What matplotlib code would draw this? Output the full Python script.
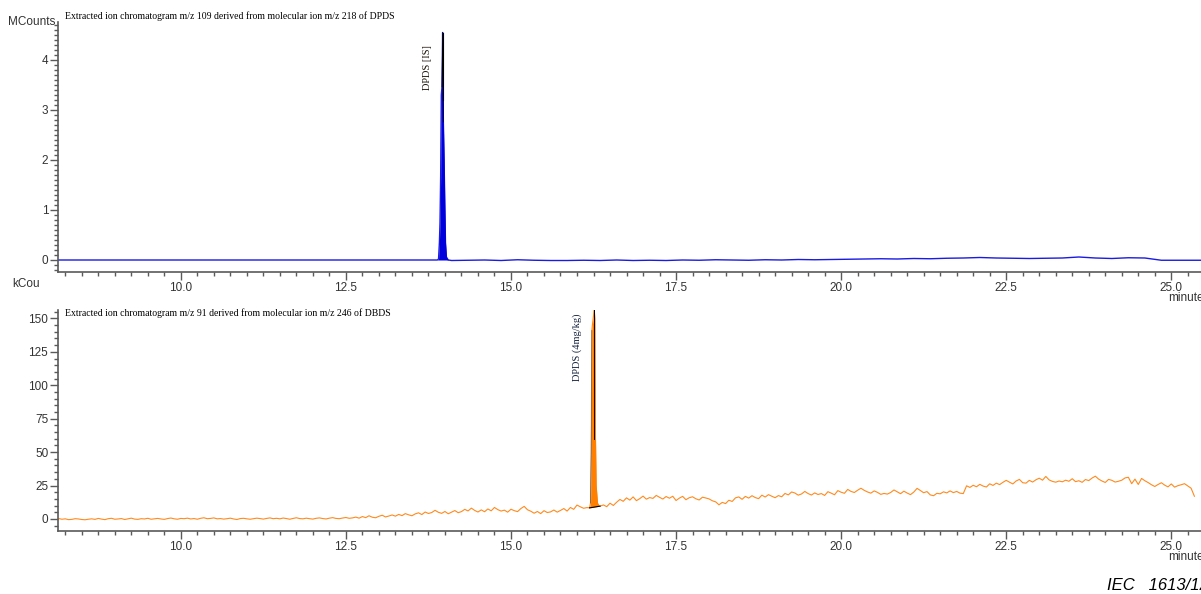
import numpy as np
import matplotlib
matplotlib.use("Agg")
import matplotlib.pyplot as plt
from matplotlib.ticker import MultipleLocator, FixedLocator

# ---------------- data ----------------
# Top trace: m/z 109 (MCounts)
dpds_pre_t = [8.14, 13.885]
dpds_pre_v = [0.0, 0.0]
dpds_peak_t = [13.885, 13.903, 13.916, 13.925, 13.935, 13.945, 13.955, 13.965, 13.976, 13.987, 13.998, 14.008, 14.022, 14.05]
dpds_peak_v = [0.0, 0.02, 0.35, 0.74, 1.66, 3.3, 3.46, 4.55, 2.76, 2.0, 1.1, 0.35, 0.06, 0.0]
dpds_post_start = 14.10
dpds_post_step = 0.25
dpds_post_v = [-0.01, -0.005, 0.0, -0.01, 0.005, -0.005, -0.01, -0.01, -0.005, -0.01, 0.0, -0.01,
               -0.005, -0.01, 0.0, -0.005, 0.005, 0.0, -0.005, 0.005, 0.0, 0.01, 0.005, 0.01,
               0.015, 0.02, 0.025, 0.02, 0.03, 0.025, 0.035, 0.04, 0.05, 0.04, 0.035, 0.03,
               0.035, 0.04, 0.06, 0.04, 0.03, 0.045, 0.04,
               -0.005, -0.005, -0.005, -0.005]

# Bottom trace: m/z 91 (kCounts)
dbds_pre_start = 8.15
dbds_step = 0.05
dbds_pre_v = [
    0.3, -0.2, 0.1, -0.5, -0.3, 0.2, 0.0, -0.4, -0.6, -0.2,
    0.1, -0.3, 0.4, -0.1, -0.5, 0.2, 0.5, -0.2, 0.0, 0.3,
    -0.4, 0.1, 0.6, -0.1, -0.3, 0.2, 0.0, 0.5, -0.2, 0.1,
    0.4, 0.0, -0.3, 0.3, 0.7, 0.1, -0.2, 0.4, 0.2, 0.6,
    0.0, 0.3, -0.2, 0.5, 0.9, 0.2, 0.4, 0.8, 0.1, 0.3,
    -0.1, 0.2, 0.6, 0.0, -0.4, 0.3, 0.5, 0.1, -0.2, 0.2,
    0.6, 0.3, -0.1, 0.4, 0.8, 0.2, 0.5, 0.1, 0.7, 0.3,
    -0.2, 0.4, 0.9, 0.3, 0.1, 0.6, 0.2, -0.1, 0.5, 0.8,
    0.3, 0.0, 0.6, 1.0, 0.4, 0.2, 0.7, 1.1, 0.5, 0.8,
    1.4, 0.6, 1.8, 1.0, 2.4, 1.3, 0.9, 2.0, 2.8, 1.5, 2.2, 3.0,
    2.1, 3.4, 2.5, 4.0, 3.1, 2.4, 3.8, 4.6, 3.3, 5.2, 4.1, 4.8, 6.5, 5.0,
    4.2, 5.6, 3.9, 5.1, 6.3, 4.7, 5.5, 7.2, 6.0, 8.1, 6.4, 5.2,
    6.8, 5.4, 7.5, 6.1, 8.6, 7.0, 5.9, 6.6, 5.1, 7.3, 6.2, 5.5, 7.8, 9.4, 6.9, 5.8,
    4.3, 5.6, 4.0, 6.2, 4.8, 5.3, 6.7, 5.1,
    6.4, 7.8, 5.9, 8.6, 7.2, 10.4, 9.1, 8.0, 8.5]
dbds_peak_t = [16.19, 16.205, 16.215, 16.225, 16.235, 16.25, 16.26, 16.27, 16.28, 16.29, 16.31, 16.33, 16.35]
dbds_peak_v = [8.3, 12.0, 49.0, 141.0, 146.0, 152.0, 158.0, 150.0, 60.0, 25.0, 12.0, 10.0, 9.6]
dbds_post_start = 16.40
dbds_post_v = [
    10.5, 9.2, 11.8, 10.1, 12.5,
    14.6, 13.2, 15.8, 14.1, 16.5, 13.7, 15.2, 17.1, 14.8, 16.0, 15.4, 17.6, 16.2, 14.9, 16.8, 15.5,
    17.0, 13.8, 15.6, 16.9, 14.4, 15.9, 16.6, 15.1, 14.2, 16.3, 15.7, 15.0, 13.6, 12.8,
    10.6, 12.4, 11.5, 14.0, 13.1, 15.8, 16.5,
    14.7, 16.9, 15.6, 17.4, 16.0, 15.2, 17.8, 16.4, 18.2, 17.0, 15.9,
    17.5, 16.6, 19.1, 18.0, 20.2, 19.4, 17.8, 18.7, 20.6, 19.0, 17.9, 19.5, 18.3,
    19.0, 17.6, 20.4, 19.3, 18.1, 21.2, 20.0, 19.2, 22.1, 20.6, 19.8, 21.5, 23.0,
    21.4, 20.2, 19.3, 21.0, 19.9, 18.4, 19.1, 18.6, 19.8, 21.7, 20.3, 18.9, 20.8, 19.4, 18.2, 20.1,
    22.9, 21.3, 19.6, 20.5, 18.0, 17.4, 19.2, 18.8, 20.3, 19.5, 21.0, 19.7, 20.6, 19.3, 19.0,
    24.8, 23.6, 25.2, 24.1, 25.9, 24.6, 23.9, 26.3, 25.1, 26.8, 25.7, 27.4, 28.9,
    27.5, 26.2, 28.4, 29.6, 27.1, 26.8, 28.9, 27.6, 29.3, 30.5, 29.0, 31.8,
    29.2, 28.1, 27.5, 28.4, 27.8, 29.0, 28.2, 30.1, 27.9, 28.6, 27.4, 29.5, 28.7, 30.6, 32.0, 29.8,
    28.4, 27.3, 29.6, 28.9, 27.6, 28.2, 29.0, 30.7, 31.2, 26.4, 29.8, 25.8, 30.3, 28.6, 27.2, 25.6,
    24.3, 25.8, 27.1, 25.3, 24.0, 26.2, 23.8, 24.9, 25.6, 26.4, 24.7, 23.0, 17.0]

x_major = [10.0, 12.5, 15.0, 17.5, 20.0, 22.5, 25.0]
x_labels = ["10.0", "12.5", "15.0", "17.5", "20.0", "22.5", "25.0"]
top_yticks = [0, 1, 2, 3, 4]
bot_yticks = [0, 25, 50, 75, 100, 125, 150]

title_top = "Extracted ion chromatogram m/z 109 derived from molecular ion m/z 218 of DPDS"
title_bot = "Extracted ion chromatogram m/z 91 derived from molecular ion m/z 246 of DBDS"
peak_label_top = "DPDS [IS]"
peak_label_bot = "DPDS (4mg/kg)"

# ---------------- build series ----------------
t_post_top = dpds_post_start + dpds_post_step * np.arange(len(dpds_post_v))
top_t = np.concatenate([dpds_pre_t, dpds_peak_t, t_post_top])
top_v = np.concatenate([dpds_pre_v, dpds_peak_v, dpds_post_v])

t_pre_bot = dbds_pre_start + dbds_step * np.arange(len(dbds_pre_v))
t_post_bot = dbds_post_start + dbds_step * np.arange(len(dbds_post_v))
bot_t = np.concatenate([t_pre_bot, dbds_peak_t, t_post_bot])
bot_v = np.concatenate([dbds_pre_v, dbds_peak_v, dbds_post_v])

# ---------------- figure ----------------
W, H = 1201, 594
fig = plt.figure(figsize=(W / 100, H / 100), dpi=100)
fig.patch.set_facecolor("white")

def fx(px):
    return px / W

def fy(py):
    return 1 - py / H

ax1 = fig.add_axes([fx(58), fy(272), 1 - fx(58), fy(22) - fy(272)])
ax2 = fig.add_axes([fx(58), fy(531), 1 - fx(58), fy(310) - fy(531)])

XMIN, XMAX = 8.14, 25.45
SPINE = "#5a5a5a"
TICKC = "#333333"
tickfont = "Liberation Sans"
serif = "Liberation Serif"

blue = "#1a1ae6"
blue_fill = "#0000dd"
orange = "#ff8a1e"
orange_fill = "#ff7f00"

# top trace
ax1.plot(top_t, top_v, color=blue, lw=1.0, zorder=2)
ax1.fill_between(dpds_peak_t, dpds_peak_v, 0, color=blue_fill, lw=0, zorder=3)
ax1.plot(dpds_peak_t[6:9], dpds_peak_v[6:9], color="black", lw=0.5, zorder=4)
ax1.plot([dpds_peak_t[7], dpds_peak_t[7]], [dpds_peak_v[7], 3.2], color="black", lw=0.8, zorder=4)

# bottom trace
ax2.plot(bot_t, bot_v, color=orange, lw=0.8, zorder=2)
base = np.interp(dbds_peak_t, [dbds_peak_t[0], dbds_peak_t[-1]], [dbds_peak_v[0], dbds_peak_v[-1]])
ax2.fill_between(dbds_peak_t, dbds_peak_v, base, color=orange_fill, lw=0, zorder=3)
ax2.plot(dbds_peak_t[1:4], dbds_peak_v[1:4], color="#606060", lw=0.5, zorder=4)
ax2.plot([dbds_peak_t[0], dbds_peak_t[-1]], [dbds_peak_v[0], dbds_peak_v[-1]], color="black", lw=0.8, zorder=4)
ax2.plot([dbds_peak_t[6], dbds_peak_t[6]], [dbds_peak_v[6], 60], color="black", lw=0.7, zorder=4)

ax1.set_ylim(-0.24, 4.76)
ax2.set_ylim(-9.0, 156.3)

for ax, yt, ymin_step in ((ax1, top_yticks, 0.1), (ax2, bot_yticks, 5)):
    ax.set_xlim(XMIN, XMAX)
    for s in ("top", "right"):
        ax.spines[s].set_visible(False)
    for s in ("left", "bottom"):
        ax.spines[s].set_color(SPINE)
        ax.spines[s].set_linewidth(1.2)
    ax.xaxis.set_major_locator(FixedLocator(x_major))
    ax.set_xticklabels(x_labels)
    ax.xaxis.set_minor_locator(MultipleLocator(0.25))
    ax.yaxis.set_major_locator(FixedLocator(yt))
    ax.set_yticklabels([str(v) for v in yt])
    ax.yaxis.set_minor_locator(MultipleLocator(ymin_step))
    ax.tick_params(which="major", length=6, width=1, color=SPINE, pad=1,
                   labelsize=8.5, labelcolor=TICKC, direction="out")
    ax.tick_params(which="minor", length=3, width=1, color=SPINE, direction="out")
    for lab in ax.get_xticklabels() + ax.get_yticklabels():
        lab.set_fontfamily(tickfont)
    ax.set_facecolor("white")

# titles
fig.text(fx(65), fy(16), title_top, family=serif, fontsize=7.0, color="black", va="center", ha="left")
fig.text(fx(65), fy(313), title_bot, family=serif, fontsize=7.0, color="black", va="center", ha="left")

# unit labels
fig.text(fx(55), fy(22), "MCounts", family=tickfont, fontsize=8.5, color=TICKC, ha="right", va="center")
fig.text(fx(12), fy(284), "kCou", family=tickfont, fontsize=8.5, color=TICKC, ha="left", va="center")
fig.text(fx(1168), fy(292), "minutes", family=tickfont, fontsize=8.5, color=TICKC, ha="left", va="top")
fig.text(fx(1168), fy(551), "minutes", family=tickfont, fontsize=8.5, color=TICKC, ha="left", va="top")

# peak labels
fig.text(fx(427), fy(68), peak_label_top, family=serif, fontsize=7.5, color="#1a1208",
         rotation=90, ha="center", va="center")
fig.text(fx(577), fy(347), peak_label_bot, family=serif, fontsize=7.5, color="#14213d",
         rotation=90, ha="center", va="center")

# source tag
fig.text(fx(1107), fy(586), "IEC   1613/12", family=tickfont, fontsize=12, style="italic",
         color="black", ha="left", va="center")

fig.savefig("out.png", dpi=100, facecolor="white")
